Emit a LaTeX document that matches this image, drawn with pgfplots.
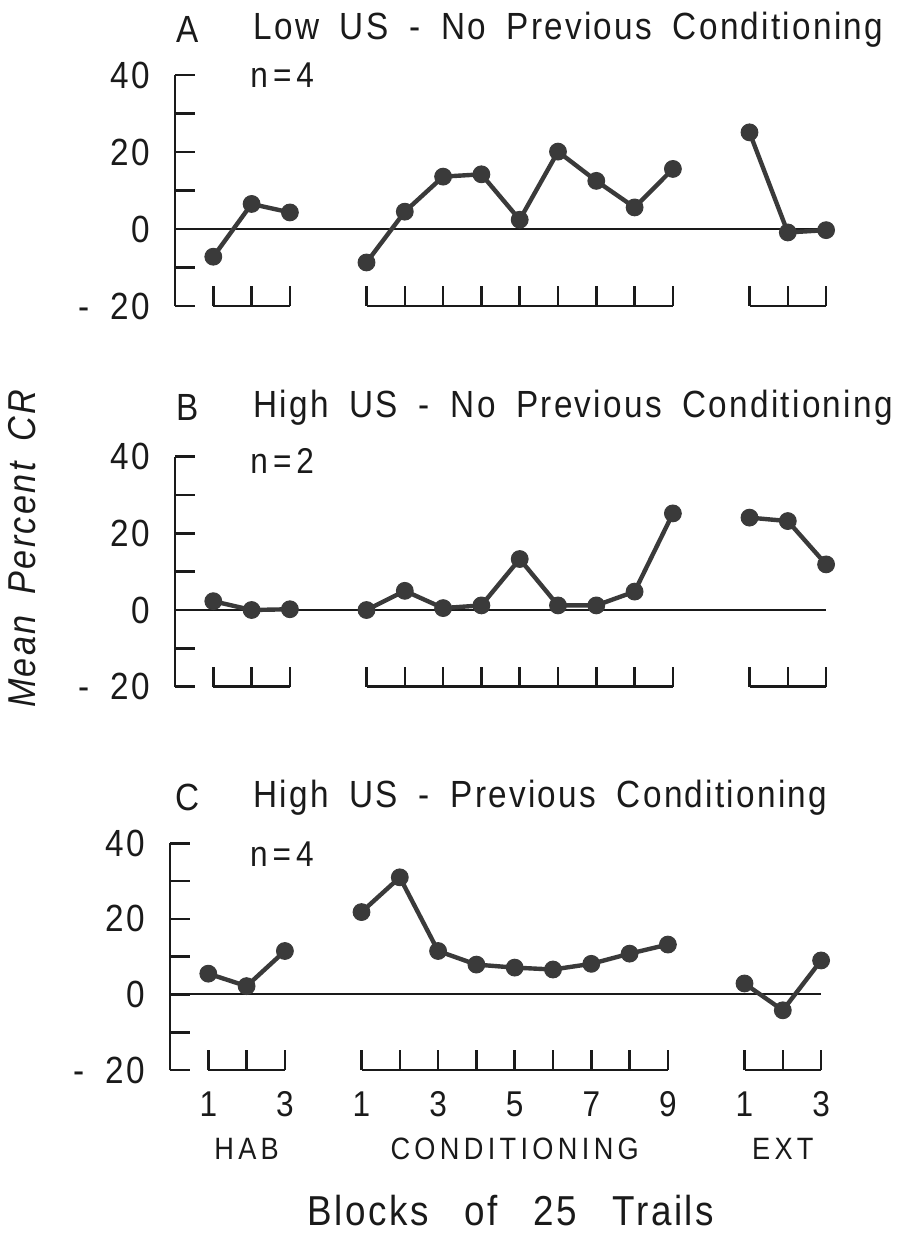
\documentclass[border=0pt]{standalone}
\usepackage{fontspec}
\setmainfont{Liberation Sans}[FakeStretch=0.88, LetterSpace=6, WordSpace=1.8]
\newfontfamily\widefont{Liberation Sans}[FakeStretch=0.88, LetterSpace=6, WordSpace=2.8]
\usepackage{pgfplots}
\pgfplotsset{compat=1.18}

\definecolor{ink}{HTML}{1A1A1A}
\definecolor{dot}{HTML}{3A3A3A}

\newcommand{\ticksz}{\fontsize{19}{21}\selectfont}
\newcommand{\titlesz}{\fontsize{19}{21}\selectfont}
\newcommand{\nsz}{\fontsize{18}{20}\selectfont}
\newcommand{\grpsz}{\fontsize{15.5}{17}\selectfont\addfontfeatures{LetterSpace=14}}

\pgfplotsset{
  panel/.style={
    x=19.15bp,
    xmin=0, xmax=17.4, ymin=-20, ymax=40,
    axis x line=none, axis y line*=left,
    ytick={-20,0,20,40}, yticklabels={- 20,0,20,40},
    minor ytick={-10,10,30},
    tick align=inside,
    major tick length=10bp, minor tick length=10bp,
    every tick/.style={line width=1.3bp, ink},
    every minor tick/.style={line width=1.3bp, ink},
    axis line style={line width=1.3bp, ink, -},
    yticklabel style={font=\ticksz, text=ink, xshift=-9bp},
    clip=false,
    anchor=south west,
  },
  series/.style={dot, line width=2.2bp, mark=*, mark size=4.2bp,
    mark options={fill=dot, draw=dot, line width=0.5bp}},
  zero/.style={ink, line width=1bp, mark=none},
}

% one bracket tick at block position #1
\newcommand{\btick}[1]{\draw[ink, line width=1.3bp] (axis cs:#1,-20) -- (axis cs:#1,-14.8);}
% brackets under each group of blocks
\newcommand{\brackets}{%
  \draw[ink, line width=1.3bp] (axis cs:1,-20) -- (axis cs:3,-20);
  \draw[ink, line width=1.3bp] (axis cs:5,-20) -- (axis cs:13,-20);
  \draw[ink, line width=1.3bp] (axis cs:15,-20) -- (axis cs:17,-20);
  \btick{1}\btick{2}\btick{3}
  \btick{5}\btick{6}\btick{7}\btick{8}\btick{9}\btick{10}\btick{11}\btick{12}\btick{13}
  \btick{15}\btick{16}\btick{17}
}
\newcommand{\blocknum}[2]{\node[font=\fontsize{18}{20}\selectfont, text=ink] at (axis cs:#1,-29.1) {#2};}
\newcommand{\nlabel}[1]{n\kern2.5bp=\kern2.5bp#1}

\begin{document}
\begin{tikzpicture}
\useasboundingbox (0bp,0bp) rectangle (454bp,617bp);

% Panel A
\begin{axis}[panel, y=1.925bp, at={(87.5bp,464bp)}]
  \addplot[zero] coordinates {(0,0) (17,0)};
  \addplot[series] coordinates {(1,-7.2) (2,6.5) (3,4.3)};
  \addplot[series] coordinates {(5,-8.7) (6,4.5) (7,13.6) (8,14.2) (9,2.4) (10,20.1) (11,12.5) (12,5.6) (13,15.6)};
  \addplot[series] coordinates {(15,25.1) (16,-0.9) (17,-0.3)};
  \brackets
  \node[font=\titlesz, text=ink] at (axis cs:0.34,51.7) {A};
  \node[font=\titlesz, text=ink, anchor=west, inner sep=0pt] at (axis cs:2.04,51.7) {Low US - No Previous Conditioning};
  \node[font=\nsz, text=ink, anchor=west, inner sep=0pt] at (axis cs:1.96,40) {\nlabel{4}};
\end{axis}

% Panel B
\begin{axis}[panel, y=1.917bp, at={(87.5bp,273.65bp)}]
  \addplot[zero] coordinates {(0,0) (17,0)};
  \addplot[series] coordinates {(1,2.3) (2,0) (3,0.2)};
  \addplot[series] coordinates {(5,0) (6,5.0) (7,0.5) (8,1.2) (9,13.3) (10,1.2) (11,1.2) (12,4.8) (13,25.2)};
  \addplot[series] coordinates {(15,24.1) (16,23.2) (17,11.9)};
  \brackets
  \node[font=\titlesz, text=ink] at (axis cs:0.34,52.7) {B};
  \node[font=\titlesz, text=ink, anchor=west, inner sep=0pt] at (axis cs:2.04,52.7) {High US - No Previous Conditioning};
  \node[font=\nsz, text=ink, anchor=west, inner sep=0pt] at (axis cs:1.96,39) {\nlabel{2}};
  \node[font={\fontsize{19.5}{21}\selectfont\itshape}, text=ink, rotate=90] at (axis cs:-4.0,16.0) {Mean Percent CR};
\end{axis}

% Panel C
\begin{axis}[panel, y=1.889bp, at={(85bp,82bp)}]
  \addplot[zero] coordinates {(0,0) (17,0)};
  \addplot[series] coordinates {(1,5.5) (2,2.2) (3,11.5)};
  \addplot[series] coordinates {(5,21.8) (6,31.0) (7,11.5) (8,7.9) (9,7.1) (10,6.6) (11,8.1) (12,10.8) (13,13.2)};
  \addplot[series] coordinates {(15,2.9) (16,-4.2) (17,9.0)};
  \brackets
  \node[font=\titlesz, text=ink] at (axis cs:0.47,52.1) {C};
  \node[font=\titlesz, text=ink, anchor=west, inner sep=0pt] at (axis cs:2.17,52.1) {High US - Previous Conditioning};
  \node[font=\nsz, text=ink, anchor=west, inner sep=0pt] at (axis cs:2.08,37) {\nlabel{4}};
  % block numbers
  \blocknum{1}{1}\blocknum{3}{3}
  \blocknum{5}{1}\blocknum{7}{3}\blocknum{9}{5}\blocknum{11}{7}\blocknum{13}{9}
  \blocknum{15}{1}\blocknum{17}{3}
  \node[font=\grpsz, text=ink] at (axis cs:2,-41) {HAB};
  \node[font=\grpsz, text=ink] at (axis cs:9,-41) {CONDITIONING};
  \node[font=\grpsz, text=ink] at (axis cs:16,-41) {EXT};
  \node[font=\fontsize{21}{23}\selectfont\widefont, text=ink] at (axis cs:8.9,-57.2) {Blocks of 25 Trails};
\end{axis}
\end{tikzpicture}
\end{document}
